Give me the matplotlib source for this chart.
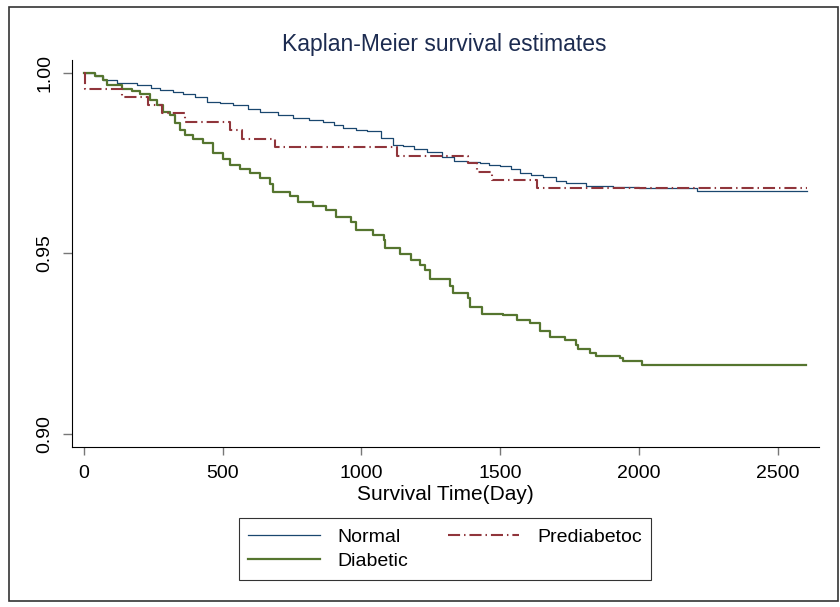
import matplotlib
matplotlib.use('Agg')
import matplotlib.pyplot as plt
from matplotlib.patches import Rectangle

plt.rcParams['font.family'] = ['Liberation Sans', 'DejaVu Sans']

# Kaplan-Meier estimates (time in days, survival)
normal_t = [0, 40, 70, 120, 190, 240, 274, 320, 357, 400, 442, 490, 537, 590, 634,
            700, 754, 810, 862, 900, 934, 980, 1019, 1070, 1114, 1150, 1190, 1235,
            1290, 1332, 1380, 1427, 1460, 1499, 1540, 1571, 1610, 1654, 1700, 1739,
            1811, 1907, 2000, 2184, 2208, 2604]
normal_s = [1.0, 0.9990, 0.9980, 0.9972, 0.9966, 0.9958, 0.9952, 0.9946, 0.9941,
            0.9932, 0.9920, 0.9915, 0.9910, 0.9900, 0.9890, 0.9882, 0.9875, 0.9870,
            0.9864, 0.9856, 0.9848, 0.9842, 0.9837, 0.9818, 0.9800, 0.9796, 0.9788,
            0.9780, 0.9766, 0.9755, 0.9752, 0.9750, 0.9745, 0.9740, 0.9732, 0.9723,
            0.9716, 0.9710, 0.9700, 0.9694, 0.9687, 0.9683, 0.9681, 0.9680, 0.9672,
            0.9672]

pre_t = [0, 5, 136, 231, 280, 364, 526, 568, 688, 1127, 1384, 1415, 1469, 1632, 2604]
pre_s = [1.0, 0.9955, 0.9932, 0.9910, 0.9888, 0.9863, 0.9841, 0.9816, 0.9793,
         0.9770, 0.9749, 0.9726, 0.9703, 0.9680, 0.9680]

diab_t = [0, 40, 70, 82, 136, 172, 202, 238, 262, 286, 310, 328, 346, 364, 394, 430,
          466, 502, 526, 562, 598, 634, 670, 680, 742, 770, 826, 874, 910, 964, 982,
          1042, 1080, 1086, 1139, 1180, 1211, 1229, 1247, 1319, 1331, 1385, 1391,
          1433, 1511, 1559, 1607, 1643, 1679, 1733, 1775, 1781, 1823, 1847, 1932,
          1944, 2010, 2601]
diab_s = [1.0, 0.9990, 0.9980, 0.9966, 0.9954, 0.9949, 0.9940, 0.9924, 0.9910,
          0.9892, 0.9883, 0.9860, 0.9841, 0.9827, 0.9816, 0.9804, 0.9777, 0.9760,
          0.9744, 0.9733, 0.9721, 0.9709, 0.9691, 0.9668, 0.9657, 0.9643, 0.9631,
          0.9620, 0.9601, 0.9585, 0.9564, 0.9550, 0.9537, 0.9515, 0.9497, 0.9482,
          0.9467, 0.9453, 0.9428, 0.9409, 0.9390, 0.9375, 0.9352, 0.9331, 0.9329,
          0.9315, 0.9306, 0.9283, 0.9268, 0.9260, 0.9246, 0.9235, 0.9224, 0.9216,
          0.9209, 0.9200, 0.9190, 0.9190]

xticks = [0, 500, 1000, 1500, 2000, 2500]
yticks = [0.90, 0.95, 1.00]
ytick_labels = ['0.90', '0.95', '1.00']

fig = plt.figure(figsize=(8.4, 6.07), dpi=100)
ax = fig.add_axes([72/840, 1-447/607, (819-72)/840, (447-60)/607])

l_norm, = ax.plot(normal_t, normal_s, drawstyle='steps-post', color='#1a476f', lw=0.9, label='Normal')
l_diab, = ax.plot(diab_t, diab_s, drawstyle='steps-post', color='#55752f', lw=1.6, label='Diabetic')
l_pre, = ax.plot(pre_t, pre_s, drawstyle='steps-post', color='#90353b', lw=1.5, label='Prediabetoc')
l_pre.set_dashes((5.8, 1.9, 0.7, 1.9))

ax.set_xlim(-43, 2649)
ax.set_ylim(0.8963, 1.0035)
ax.set_xticks(xticks)
ax.set_yticks(yticks)
ax.set_yticklabels(ytick_labels, rotation=90, va='center')
ax.tick_params(axis='both', labelsize=14, color='#777777', width=1)
ax.tick_params(axis='y', length=6.5, pad=7)
ax.tick_params(axis='x', length=5.8, pad=7)
ax.spines['top'].set_visible(False)
ax.spines['right'].set_visible(False)
ax.set_xlabel('Survival Time(Day)', fontsize=15, labelpad=2)

fig.text(444/840, 1-44/607, 'Kaplan-Meier survival estimates', fontsize=16.5,
         color='#1c2b50', ha='center', va='center')

leg = fig.legend(handles=[l_norm, l_diab, l_pre], ncol=2, loc='center',
                 bbox_to_anchor=(445/840, 1-549/607), fontsize=14,
                 frameon=True, fancybox=False, edgecolor='black',
                 handlelength=3.7, handletextpad=0.9, columnspacing=2.0,
                 labelspacing=0.35, borderpad=0.5)
leg.get_frame().set_linewidth(0.8)

fig.patches.append(Rectangle((9/840, 1-601/607), 829/840, 594/607, transform=fig.transFigure,
                             fill=False, edgecolor='#333333', lw=1.2))

fig.savefig('out.png', dpi=100)
